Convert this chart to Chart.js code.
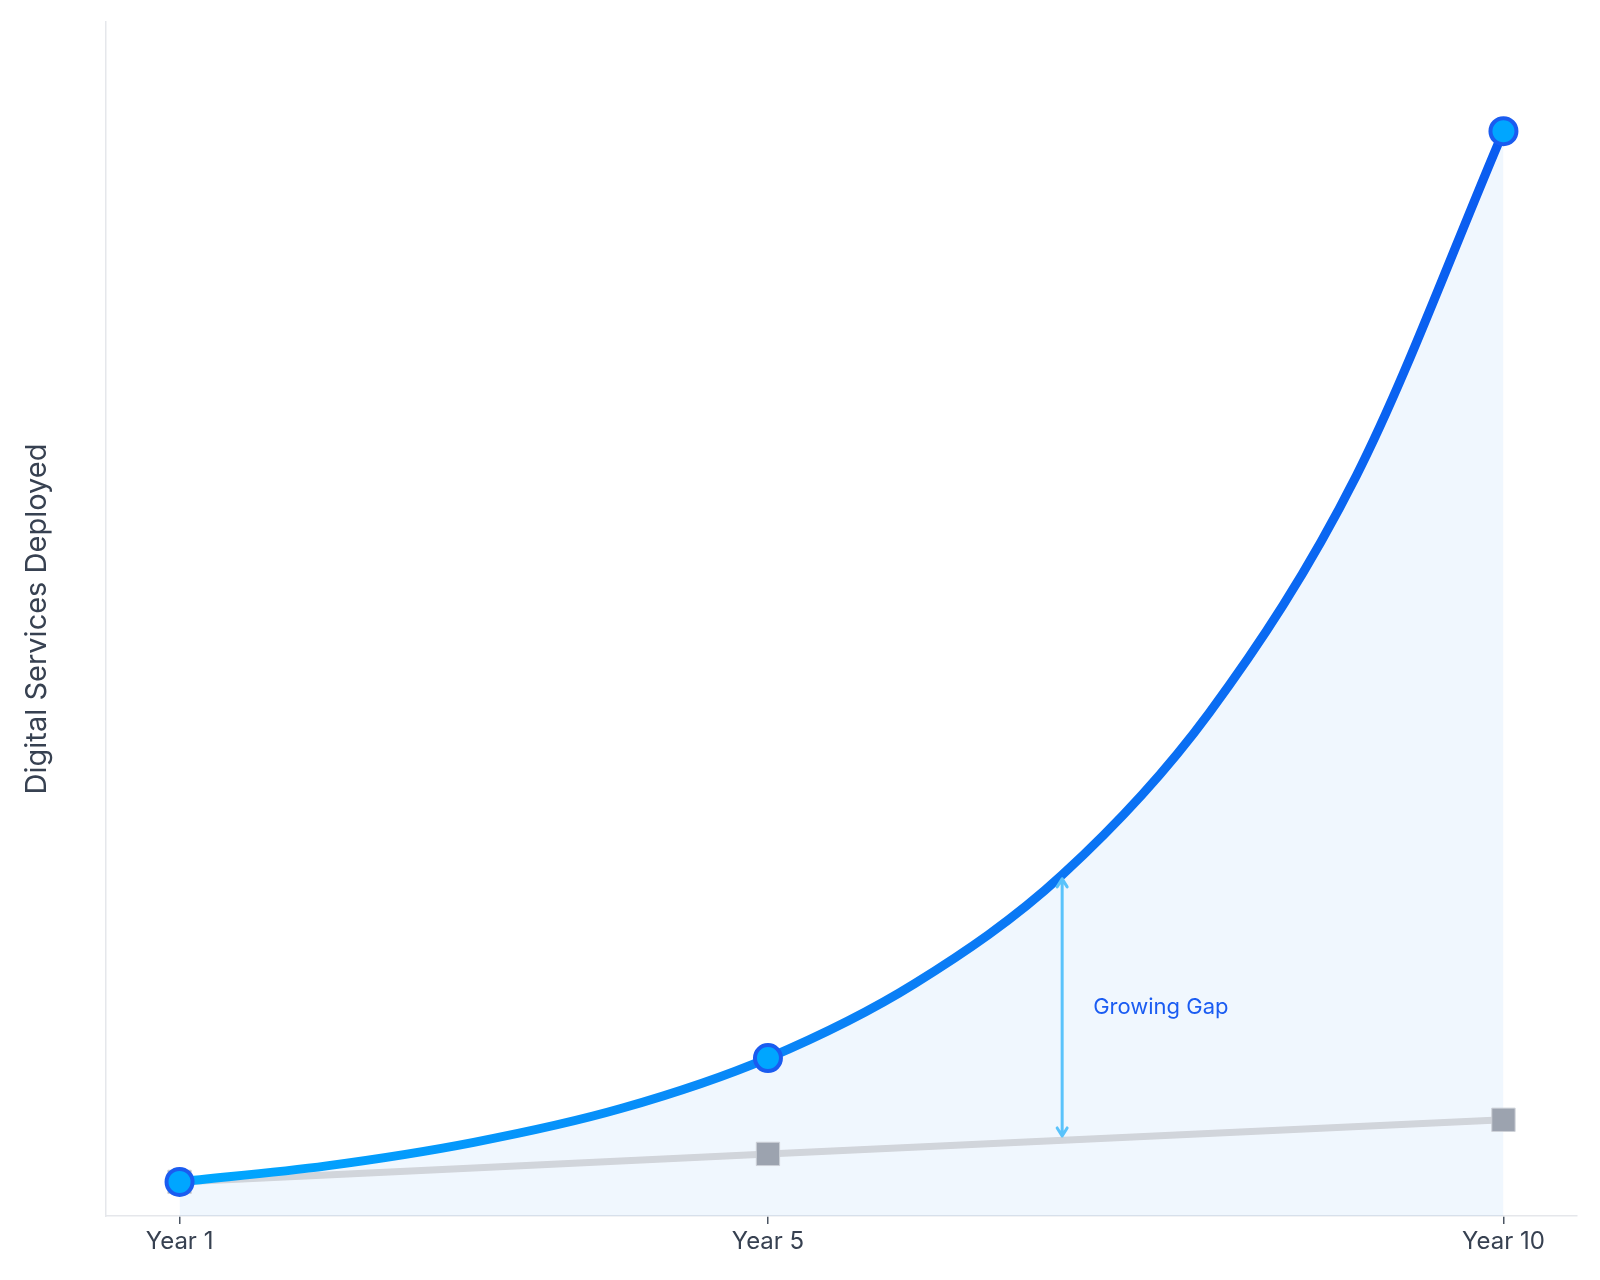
<!DOCTYPE html>
<html>
<head>
<meta charset="utf-8">
<script src="https://cdn.jsdelivr.net/npm/chart.js@4.4.1/dist/chart.umd.min.js"></script>
<style>
  html, body { margin: 0; padding: 0; background: #fff; }
  #wrap { width: 1600px; height: 1280px; }
</style>
</head>
<body>
<div id="wrap"><canvas id="chart" width="1600" height="1280"></canvas></div>
<script>
// values (x = year, y = services)
const years = [1, 2, 3, 4, 5, 6, 7, 8, 9, 10];
const digitalServices = [10, 14.7, 21.6, 31.5, 46.3, 68.2, 100, 147.5, 217, 318];
const baselineYears = [1, 5, 10];
const baselineServices = [10, 18.2, 28.2];
const markedYears = [1, 5, 10];
const xTickLabels = ['Year 1', 'Year 5', 'Year 10'];
const yTitle = 'Digital Services Deployed';

// annotation between the two lines
const gapYear = 7;
const gapTop = 100;
const gapBottom = 22.3;
const gapLabel = 'Growing Gap';

const FONT = 'Inter, "Noto Sans", sans-serif';
const TEXT = '#374151';

let lineGradient = null;
function blueLine(context) {
    const chart = context.chart;
    const area = chart.chartArea;
    if (!area) return '#0a7cf5';
    if (!lineGradient) {
        const x = chart.scales.x;
        const g = chart.ctx.createLinearGradient(x.getPixelForValue(years[0]), 0, x.getPixelForValue(years[years.length - 1]), 0);
        g.addColorStop(0, '#00a8ff');
        g.addColorStop(0.5, '#0a82f6');
        g.addColorStop(1, '#0a5cf0');
        lineGradient = g;
    }
    return lineGradient;
}

// double arrow + label for the gap
const gapArrow = {
    id: 'gapArrow',
    afterDatasetsDraw(chart) {
        const { ctx, scales: { x, y } } = chart;
        const px = x.getPixelForValue(gapYear);
        const top = y.getPixelForValue(gapTop) + 4;
        const bottom = y.getPixelForValue(gapBottom) - 4;
        ctx.save();
        ctx.strokeStyle = '#5ac3fb';
        ctx.lineWidth = 3;
        ctx.lineCap = 'round';
        ctx.lineJoin = 'round';
        ctx.beginPath();
        ctx.moveTo(px, top);
        ctx.lineTo(px, bottom);
        ctx.moveTo(px - 5, top + 8);
        ctx.lineTo(px, top);
        ctx.lineTo(px + 5, top + 8);
        ctx.moveTo(px - 5, bottom - 8);
        ctx.lineTo(px, bottom);
        ctx.lineTo(px + 5, bottom - 8);
        ctx.stroke();

        ctx.fillStyle = '#1a5cf2';
        ctx.font = '22px ' + FONT;
        ctx.textAlign = 'left';
        ctx.textBaseline = 'middle';
        ctx.fillText(gapLabel, px + 31, (top + bottom) / 2);
        ctx.restore();
    }
};

new Chart(document.getElementById('chart'), {
    type: 'line',
    data: {
        datasets: [
            {
                label: 'Digital',
                data: years.map((yr, i) => ({ x: yr, y: digitalServices[i] })),
                order: 0,
                borderColor: blueLine,
                borderWidth: 9,
                cubicInterpolationMode: 'monotone',
                fill: 'origin',
                backgroundColor: 'rgba(0, 120, 240, 0.06)',
                pointRadius: (c) => markedYears.includes(years[c.dataIndex]) ? 13 : 0,
                pointHoverRadius: (c) => markedYears.includes(years[c.dataIndex]) ? 13 : 0,
                pointBackgroundColor: '#00a6ff',
                pointBorderColor: '#1a5cf0',
                pointBorderWidth: 4
            },
            {
                label: 'Baseline',
                data: baselineYears.map((yr, i) => ({ x: yr, y: baselineServices[i] })),
                order: 1,
                borderColor: '#d1d5db',
                borderWidth: 7,
                tension: 0,
                fill: false,
                pointStyle: 'rect',
                pointRadius: 16.5,
                pointHoverRadius: 16.5,
                pointBackgroundColor: '#9ca3af',
                pointBorderColor: '#cdd1d8',
                pointBorderWidth: 1
            }
        ]
    },
    options: {
        responsive: false,
        animation: false,
        events: [],
        layout: { padding: { top: 22, right: 23, bottom: 0, left: 18 } },
        plugins: {
            legend: { display: false },
            tooltip: { enabled: false },
            filler: { drawTime: 'beforeDatasetsDraw' }
        },
        scales: {
            x: {
                type: 'linear',
                min: 0.5,
                max: 10.5,
                afterBuildTicks: (scale) => {
                    scale.ticks = markedYears.map(v => ({ value: v }));
                },
                afterFit: (scale) => { scale.height = 64; },
                ticks: {
                    callback: (v) => xTickLabels[markedYears.indexOf(v)],
                    font: { family: FONT, size: 24 },
                    color: TEXT,
                    padding: 3,
                    maxRotation: 0,
                    autoSkip: false
                },
                grid: { drawOnChartArea: false, tickLength: 8, color: '#4b5563', lineWidth: 1.5 },
                border: { color: '#e5e7eb', width: 1.5 }
            },
            y: {
                min: 0,
                max: 350,
                afterFit: (scale) => { scale.width = 88; },
                ticks: { display: false },
                grid: { display: false },
                border: { color: '#e5e7eb', width: 1.5 },
                title: {
                    display: true,
                    text: yTitle,
                    font: { family: FONT, size: 29 },
                    color: TEXT,
                    padding: { top: 2, bottom: 4 }
                }
            }
        }
    },
    plugins: [gapArrow]
});
</script>
</body>
</html>
